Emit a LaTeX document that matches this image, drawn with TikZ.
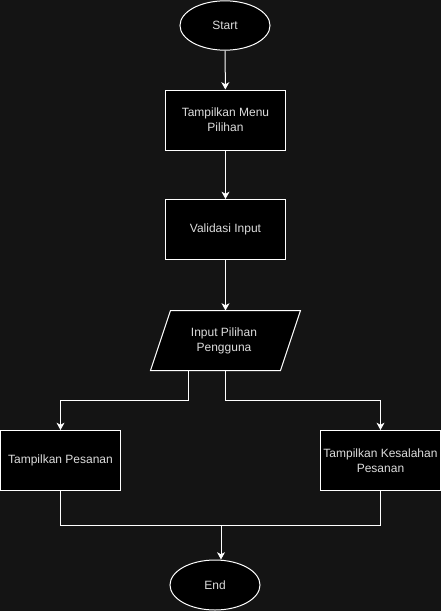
\documentclass[tikz,border=0pt]{standalone}
\usepackage{fontspec}
\setmainfont{Liberation Sans}
\usetikzlibrary{shapes.geometric,arrows.meta}
\definecolor{bgc}{HTML}{141414}
\definecolor{txt}{HTML}{DCDCDC}
\begin{document}
\begin{tikzpicture}[x=0.75pt,y=-0.75pt,
  every node/.style={font=\fontsize{9pt}{11.25pt}\selectfont, text=txt, align=center, inner sep=0pt},
  shp/.style={draw=white, fill=black, line width=0.75pt},
  term/.style={shp, ellipse, minimum width=67.5pt, minimum height=37pt},
  proc/.style={shp, rectangle, minimum width=90pt, minimum height=45pt},
  conn/.style={draw=white, line width=0.75pt},
  arr/.style={conn, -{Stealth[length=5.5pt,width=6pt,inset=1.6pt]}}]
\fill[bgc] (0,0) rectangle (441,611);
\useasboundingbox (0,0) rectangle (441,611);

\node[term] (start) at (225,25.5) {Start};
\node[proc] (m1) at (225.5,120) {Tampilkan Menu\\Pilihan};
\node[proc] (v) at (225.5,229.5) {Validasi Input};

\coordinate (pTL) at (170.5,310.5);
\coordinate (pTR) at (300.5,310.5);
\coordinate (pBR) at (280.5,370.5);
\coordinate (pBL) at (150.5,370.5);
\filldraw[shp] (pTL) -- (pTR) -- (pBR) -- (pBL) -- cycle;
\node (p) at (224,340.5) {Input Pilihan\\Pengguna};
\coordinate (pin) at (225.5,310.5);
\coordinate (pa) at (188,370.5);
\coordinate (pb) at (225.5,370.5);

\node[proc] (tp) at (60.5,460.5) {Tampilkan Pesanan};
\node[proc] (tk) at (380.5,460.5) {Tampilkan Kesalahan\\Pesanan};
\node[term, minimum height=37.5pt] (end) at (215,585) {End};

\coordinate (ya) at (0,400.5);
\coordinate (yb) at (0,525.5);
\coordinate (j) at (221,525.5);

\draw[arr] (start) -- (m1);
\draw[arr] (m1) -- (v);
\draw[arr] (v) -- (pin);
\draw[arr] (pa) -- (pa |- ya) -| (tp.north);
\draw[arr] (pb) -- (pb |- ya) -| (tk.north);
\draw[conn] (tp.south) |- (yb -| tk.south) -- (tk.south);
\draw[arr] (j) -- (j |- end.north);
\end{tikzpicture}
\end{document}
